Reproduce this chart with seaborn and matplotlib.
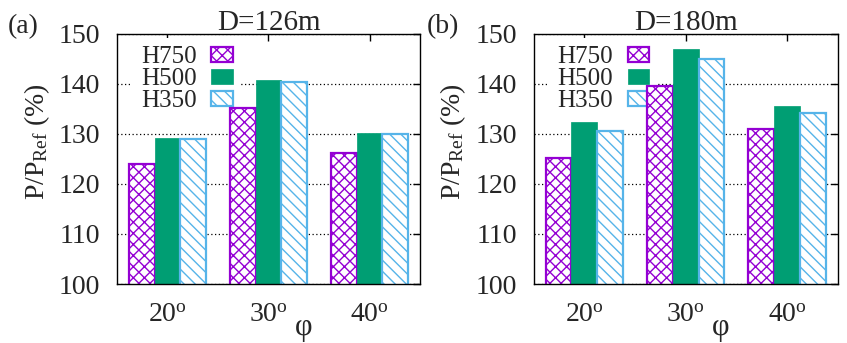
import matplotlib
matplotlib.use("Agg")
import matplotlib.pyplot as plt
import pandas as pd
import seaborn as sns
from matplotlib.patches import Patch

angles = ["20", "30", "40"]
towers = ["H750", "H500", "H350"]
colors = ["#9400d3", "#009e73", "#56b4e9"]
hatches = ["xxx", "", "\\\\\\"]

# P/P_ref (%) per angle, one list per tower height
d126_h750 = [124.0, 135.1, 126.1]
d126_h500 = [129.2, 140.8, 130.1]
d126_h350 = [128.9, 140.3, 129.9]

d180_h750 = [125.1, 139.5, 130.9]
d180_h500 = [132.4, 147.0, 135.6]
d180_h350 = [130.5, 144.9, 134.1]

panels = [
    ("(a)", "D=126m", [d126_h750, d126_h500, d126_h350]),
    ("(b)", "D=180m", [d180_h750, d180_h500, d180_h350]),
]


def make_frame(series):
    rows = []
    for tower, vals in zip(towers, series):
        for ang, v in zip(angles, vals):
            rows.append({"phi": ang, "tower": tower, "value": v})
    return pd.DataFrame(rows)


sns.set_theme(style="white")
plt.rcParams["font.family"] = ["Liberation Serif", "DejaVu Serif"]
plt.rcParams["mathtext.fontset"] = "custom"
plt.rcParams["mathtext.rm"] = "Liberation Serif"
plt.rcParams["mathtext.it"] = "Liberation Serif:italic"
plt.rcParams["hatch.linewidth"] = 1.0

fig = plt.figure(figsize=(8.47, 3.43), dpi=100)
axes_pos = [[0.138, 0.172, 0.358, 0.729], [0.630, 0.172, 0.359, 0.729]]
label_x = [0.009, 0.504]

for i, (tag, title, series) in enumerate(panels):
    ax = fig.add_axes(axes_pos[i])
    df = make_frame(series)
    sns.barplot(data=df, x="phi", y="value", hue="tower", order=angles,
                hue_order=towers, palette=colors, width=0.765,
                legend=False, ax=ax)

    for cont, col, h in zip(ax.containers, colors, hatches):
        for bar in cont:
            if h:
                bar.set_facecolor("white")
                bar.set_edgecolor(col)
                bar.set_hatch(h)
                bar.set_linewidth(1.6)
            else:
                bar.set_facecolor(col)
                bar.set_edgecolor(col)
                bar.set_linewidth(0.5)

    ax.set_ylim(100, 150)
    ax.set_xlim(-0.5, 2.5)
    ax.set_yticks(range(100, 151, 10))
    ax.set_xticks(range(len(angles)))
    ax.set_xticklabels([a + r"$^{\rm o}$" for a in angles], fontsize=20)
    ax.tick_params(axis="y", labelsize=20, pad=12)
    ax.tick_params(axis="x", pad=14)
    ax.tick_params(direction="in", length=5, width=1, top=True, right=True,
                   color="black")
    ax.set_axisbelow(True)
    ax.yaxis.grid(True, linestyle=(0, (1, 2)), color="black", linewidth=0.9)
    for s in ax.spines.values():
        s.set_color("black")
        s.set_linewidth(1.0)

    ax.set_xlabel("φ", fontsize=22)
    ax.xaxis.set_label_coords(0.615, -0.115)
    ax.set_ylabel(r"P/P$_{\rm Ref}$ (%)", fontsize=20)
    ax.yaxis.set_label_coords(-0.215, 0.57)
    ax.set_title(title, fontsize=21, pad=3)
    fig.text(label_x[i], 0.904, tag, fontsize=20, va="baseline")

    handles = [Patch(facecolor=("white" if h else c), edgecolor=c, hatch=h,
                     linewidth=1.6 if h else 0.5)
               for c, h in zip(colors, hatches)]
    leg = ax.legend(handles, towers, loc="upper left", bbox_to_anchor=(0.05, 0.985),
                    borderaxespad=0, fontsize=18, markerfirst=False,
                    handlelength=0.85, handleheight=0.5, handletextpad=0.6,
                    labelspacing=0.0, borderpad=0.35, frameon=True,
                    framealpha=1, fancybox=False)
    leg.get_frame().set_edgecolor("none")
    leg.get_frame().set_facecolor("white")
    leg.set_zorder(0.9)

fig.savefig("out.png", dpi=100)
